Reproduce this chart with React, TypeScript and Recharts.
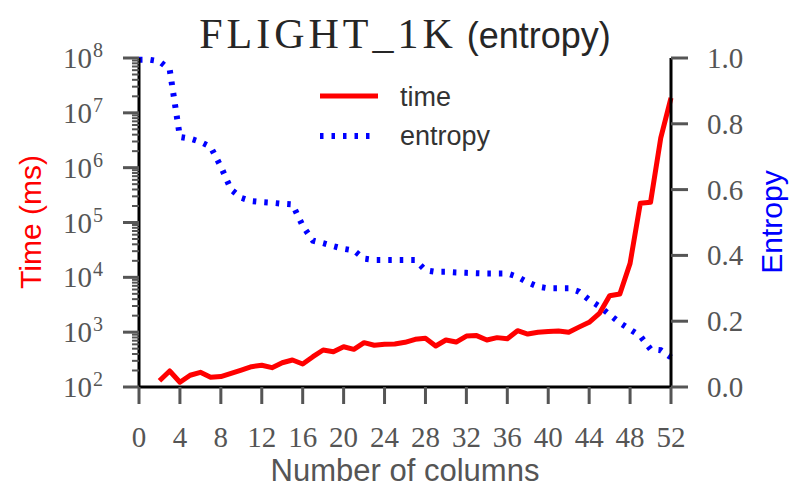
import { LineChart, Line, XAxis, YAxis, Legend } from "recharts";

const columns = [
  0, 1, 2, 3, 4, 5, 6, 7, 8, 9, 10, 11, 12, 13, 14, 15, 16, 17, 18, 19, 20, 21, 22, 23, 24, 25, 26,
  27, 28, 29, 30, 31, 32, 33, 34, 35, 36, 37, 38, 39, 40, 41, 42, 43, 44, 45, 46, 47, 48, 49, 50, 51, 52,
];

// ms, no run for 0 and 1 columns
const timeMs = [
  null, null, 130, 196, 122, 164, 185, 150, 155, 178, 204, 235, 249, 225, 277, 311, 263, 357, 473,
  441, 543, 487, 644, 577, 600, 610, 653, 742, 772, 560, 720, 660, 850, 865, 720, 795, 760, 1065,
  925, 995, 1025, 1050, 995, 1235, 1515, 2200, 4630, 4980, 18000, 224000, 234000, 3500000, 18700000,
];

const entropy = [
  0.995, 0.995, 0.99, 0.965, 0.76, 0.755, 0.745, 0.73, 0.67, 0.6, 0.575, 0.565, 0.562, 0.56, 0.557,
  0.555, 0.49, 0.445, 0.437, 0.428, 0.42, 0.415, 0.39, 0.386, 0.386, 0.386, 0.386, 0.386, 0.355,
  0.35, 0.35, 0.348, 0.347, 0.346, 0.345, 0.345, 0.345, 0.335, 0.318, 0.305, 0.3, 0.3, 0.3, 0.29,
  0.265, 0.245, 0.22, 0.195, 0.175, 0.155, 0.115, 0.112, 0.09,
];

const xTicks = [0, 4, 8, 12, 16, 20, 24, 28, 32, 36, 40, 44, 48, 52];
const timeDecades = [1e2, 1e3, 1e4, 1e5, 1e6, 1e7, 1e8];
const minorSteps = [2, 3, 4, 5, 6, 7, 8, 9];
const entropyTicks = [0, 0.2, 0.4, 0.6, 0.8, 1.0];

const timeTicks = [
  ...timeDecades,
  ...timeDecades.slice(0, -1).flatMap((d) => minorSteps.map((m) => m * d)),
].sort((a, b) => a - b);

const data = columns.map((c, i) => ({
  col: c,
  time: timeMs[i] == null ? undefined : timeMs[i],
  entropy: entropy[i],
}));

const GRAY = "#555";
const SERIF = "'Liberation Serif', 'DejaVu Serif', serif";
const SANS = "'Liberation Sans', 'DejaVu Sans', sans-serif";
const BLUE_DASH = "3.5 8";

function XTick({ x, y, payload }: any) {
  return (
    <g>
      <line x1={x} x2={x} y1={y} y2={y + 17} stroke={GRAY} strokeWidth={3} />
      <text x={x} y={y + 60} textAnchor="middle" fontFamily={SERIF} fontSize={29} fill={GRAY}>
        {payload.value}
      </text>
    </g>
  );
}

function LogTick({ x, y, payload }: any) {
  const lg = Math.log10(payload.value);
  const exp = Math.round(lg);
  if (Math.abs(lg - exp) > 1e-6) {
    return <line x1={x - 7} x2={x} y1={y} y2={y} stroke={GRAY} strokeWidth={2} />;
  }
  return (
    <g>
      <line x1={x - 16} x2={x} y1={y} y2={y} stroke={GRAY} strokeWidth={3} />
      <text x={x - 47} y={y + 10} textAnchor="end" fontFamily={SERIF} fontSize={29} fill={GRAY}>
        10
      </text>
      <text x={x - 46} y={y - 1} textAnchor="start" fontFamily={SERIF} fontSize={20} fill={GRAY}>
        {exp}
      </text>
    </g>
  );
}

function EntropyTick({ x, y, payload }: any) {
  return (
    <g>
      <line x1={x} x2={x + 17} y1={y} y2={y} stroke={GRAY} strokeWidth={3} />
      <text x={x + 36} y={y + 10} textAnchor="start" fontFamily={SERIF} fontSize={29} fill={GRAY}>
        {payload.value.toFixed(1)}
      </text>
    </g>
  );
}

function LegendBox() {
  return (
    <svg width={200} height={80} style={{ display: "block" }}>
      <line x1={5} x2={63} y1={20} y2={20} stroke="#ff0000" strokeWidth={5} />
      <text x={85} y={30} fontFamily={SANS} fontSize={27} fill="#333">time</text>
      <line x1={5} x2={58} y1={60} y2={60} stroke="#0000ff" strokeWidth={6} strokeDasharray={BLUE_DASH} />
      <text x={85} y={69} fontFamily={SANS} fontSize={27} fill="#333">entropy</text>
    </svg>
  );
}

export default function App() {
  return (
    <div style={{ position: "absolute", left: 0, top: 0, width: 790, height: 489, background: "#fff" }}>
      <LineChart width={790} height={489} data={data} margin={{ top: 58, right: 0, bottom: 0, left: 0 }}>
        <XAxis
          dataKey="col"
          type="number"
          domain={[0, 52]}
          ticks={xTicks}
          interval={0}
          height={102}
          tickSize={0}
          tickMargin={0}
          tickLine={false}
          axisLine={{ stroke: "#000", strokeWidth: 3 }}
          tick={<XTick />}
        />
        <YAxis
          yAxisId="time"
          orientation="left"
          scale="log"
          domain={[1e2, 1e8]}
          allowDataOverflow
          ticks={timeTicks}
          interval={0}
          width={139}
          tickSize={0}
          tickMargin={0}
          tickLine={false}
          axisLine={{ stroke: "#000", strokeWidth: 3 }}
          tick={<LogTick />}
        />
        <YAxis
          yAxisId="entropy"
          orientation="right"
          domain={[0, 1]}
          ticks={entropyTicks}
          interval={0}
          width={119}
          tickSize={0}
          tickMargin={0}
          tickLine={false}
          axisLine={{ stroke: "#000", strokeWidth: 3 }}
          tick={<EntropyTick />}
        />
        <Line
          yAxisId="entropy"
          dataKey="entropy"
          stroke="#0000ff"
          strokeWidth={6}
          strokeDasharray={BLUE_DASH}
          dot={false}
          activeDot={false}
          isAnimationActive={false}
        />
        <Line
          yAxisId="time"
          dataKey="time"
          stroke="#ff0000"
          strokeWidth={5}
          strokeLinejoin="round"
          dot={false}
          activeDot={false}
          isAnimationActive={false}
        />
        <Legend
          layout="vertical"
          align="center"
          verticalAlign="middle"
          content={() => <LegendBox />}
          wrapperStyle={{ position: "absolute", left: 315, top: 76, width: 200, height: 80 }}
        />
      </LineChart>
      <svg
        width={790}
        height={489}
        style={{ position: "absolute", left: 0, top: 0, pointerEvents: "none" }}
      >
        <text x={405} y={48} textAnchor="middle" fill="#262626">
          <tspan fontFamily={SERIF} fontSize={42} letterSpacing={4}>FLIGHT_1K</tspan>
          <tspan fontFamily={SANS} fontSize={36}> (entropy)</tspan>
        </text>
        <text x={405} y={481} textAnchor="middle" fontFamily={SANS} fontSize={31} fill={GRAY}>
          Number of columns
        </text>
        <text
          x={0}
          y={0}
          transform="translate(41 222) rotate(-90)"
          textAnchor="middle"
          fontFamily={SANS}
          fontSize={30}
          fill="#ff0000"
        >
          Time (ms)
        </text>
        <text
          x={0}
          y={0}
          transform="translate(782 222) rotate(-90)"
          textAnchor="middle"
          fontFamily={SANS}
          fontSize={30}
          fill="#0000ff"
        >
          Entropy
        </text>
      </svg>
    </div>
  );
}
